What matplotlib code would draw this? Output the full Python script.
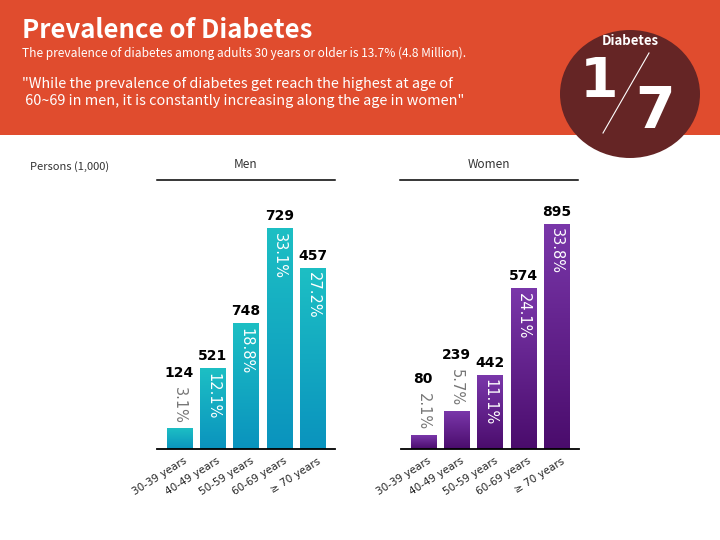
import numpy as np
import matplotlib
matplotlib.use("Agg")
import matplotlib.pyplot as plt
from matplotlib.patches import Ellipse, Rectangle
from matplotlib.transforms import ScaledTranslation
from matplotlib.colors import LinearSegmentedColormap

# ---- data ----
age_groups = ["30-39 years", "40-49 years", "50-59 years", "60-69 years", "≥ 70 years"]
men_persons = [124, 521, 748, 729, 457]
men_pct = [3.1, 12.1, 18.8, 33.1, 27.2]
women_persons = [80, 239, 442, 574, 895]
women_pct = [2.1, 5.7, 11.1, 24.1, 33.8]

title = "Prevalence of Diabetes"
subtitle = "The prevalence of diabetes among adults 30 years or older is 13.7% (4.8 Million)."
quote1 = "\"While the prevalence of diabetes get reach the highest at age of"
quote2 = " 60~69 in men, it is constantly increasing along the age in women\""

HEAD_FONT = ["Noto Sans CJK KR", "DejaVu Sans"]
W, H = 720, 540
fig = plt.figure(figsize=(7.2, 5.4), dpi=100)
fig.patch.set_facecolor("white")

# background / header in pixel coordinates
bg = fig.add_axes([0, 0, 1, 1], zorder=0)
bg.set_xlim(0, W)
bg.set_ylim(H, 0)
bg.axis("off")
bg.add_patch(Rectangle((0, 0), W, 135, color="#E04C2E", lw=0))
bg.add_patch(Ellipse((630, 94), 140, 128, color="#652525", lw=0))
bg.text(22, 31, title, color="white", fontsize=18.5, fontweight="bold",
        family=HEAD_FONT, va="center", ha="left")
bg.text(22, 53, subtitle, color="white", fontsize=8.6, family=HEAD_FONT,
        va="center", ha="left", fontweight="light")
bg.text(22, 84, quote1, color="white", fontsize=10.4, family=HEAD_FONT,
        va="center", ha="left")
bg.text(22, 101, quote2, color="white", fontsize=10.4, family=HEAD_FONT,
        va="center", ha="left")
bg.text(630, 41, "Diabetes", color="white", fontsize=9.5, fontweight="bold",
        family=HEAD_FONT, va="center", ha="center")
bg.text(599, 82, "1", color="white", fontsize=40, fontweight="bold",
        family="DejaVu Sans", va="center", ha="center")
bg.text(655, 112, "7", color="white", fontsize=41, fontweight="bold",
        family="DejaVu Sans", va="center", ha="center")
bg.plot([649, 603], [53, 133], color="white", lw=0.8)

bg.text(30, 167, "Persons (1,000)", color="#333333", fontsize=8, family=HEAD_FONT,
        va="center", ha="left")
bg.text(246, 164, "Men", color="#333333", fontsize=8.5, family=HEAD_FONT,
        va="center", ha="center")
bg.text(489, 164, "Women", color="#333333", fontsize=8.5, family=HEAD_FONT,
        va="center", ha="center")
bg.plot([157, 335], [180, 180], color="black", lw=1.1)
bg.plot([400, 578], [180, 180], color="black", lw=1.1)

men_cmap = LinearSegmentedColormap.from_list("m", ["#0A93BE", "#1DBFC4"])
women_cmap = LinearSegmentedColormap.from_list("w", ["#4A0C6C", "#7A37AA"])

base_y = 449
px_per = 6.65
ymax = 38
ax_h = ymax * px_per


def draw_panel(left_px, right_px, persons, pct, cmap):
    ax = fig.add_axes([left_px / W, (H - base_y) / H, (right_px - left_px) / W, ax_h / H],
                      zorder=2)
    ax.patch.set_alpha(0)
    x = np.arange(len(pct))
    bars = ax.bar(x, pct, width=0.75, color="none", lw=0)
    grad = np.linspace(0, 1, 256).reshape(-1, 1)
    for b in bars:
        x0, w, h = b.get_x(), b.get_width(), b.get_height()
        ax.imshow(grad, extent=[x0, x0 + w, 0, h], origin="lower", cmap=cmap,
                  aspect="auto", zorder=1)
    ax.set_xlim(-0.66, len(pct) - 1 + 0.66)
    ax.set_ylim(0, ymax)
    for s in ["top", "right", "left"]:
        ax.spines[s].set_visible(False)
    ax.spines["bottom"].set_linewidth(1.3)
    ax.spines["bottom"].set_color("black")
    ax.set_yticks([])
    ax.set_xticks(x)
    ax.set_xticklabels(age_groups, rotation=32, ha="right", rotation_mode="anchor",
                       fontsize=7.5, color="#222222", family="DejaVu Sans")
    ax.tick_params(axis="x", length=0, pad=5)
    for lab in ax.get_xticklabels():
        lab.set_transform(lab.get_transform() + ScaledTranslation(4 / 100, 0, fig.dpi_scale_trans))
    for i, (p, v) in enumerate(zip(pct, persons)):
        pct_txt = f"{p}%"
        if p >= 8:
            ax.annotate(pct_txt, (i, p), xytext=(0, -3), textcoords="offset points",
                        rotation=270, ha="center", va="top", color="white",
                        fontsize=10.5, fontweight="normal", zorder=3)
            ax.annotate(str(v), (i, p), xytext=(0, 4), textcoords="offset points",
                        ha="center", va="bottom", color="black", fontsize=10,
                        fontweight="bold", zorder=3)
        else:
            ax.annotate(pct_txt, (i, p), xytext=(0, 3.5), textcoords="offset points",
                        rotation=270, ha="center", va="bottom", color="#777777",
                        fontsize=10.5, fontweight="normal", zorder=3)
            ax.annotate(str(v), (i, p), xytext=(0, 35), textcoords="offset points",
                        ha="center", va="bottom", color="black", fontsize=10,
                        fontweight="bold", zorder=3)
    return ax


draw_panel(157, 335, men_persons, men_pct, men_cmap)
draw_panel(401, 579, women_persons, women_pct, women_cmap)

fig.savefig("out.png", dpi=100)
